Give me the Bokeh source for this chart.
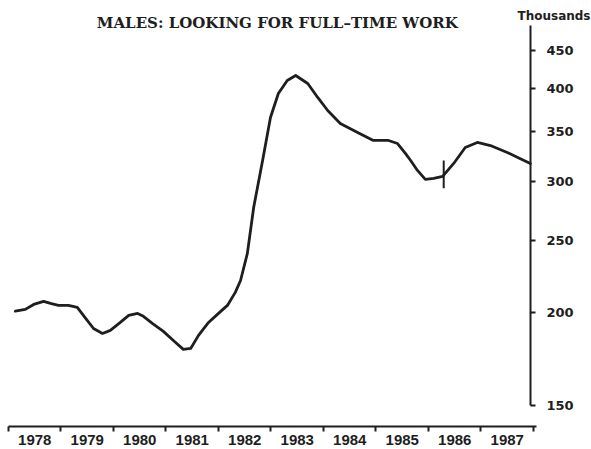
from bokeh.plotting import figure
from bokeh.models import Range1d, FixedTicker, Label
from bokeh.embed import file_html
from bokeh.resources import INLINE

# Data (thousands, log scale)
years = [1978.13, 1978.32, 1978.48, 1978.67, 1978.80, 1978.95,
         1979.14, 1979.31, 1979.47, 1979.62, 1979.79, 1979.94,
         1980.13, 1980.29, 1980.46, 1980.57, 1980.74, 1980.95,
         1981.14, 1981.33, 1981.47, 1981.62, 1981.81,
         1982.00, 1982.17, 1982.32, 1982.42, 1982.55, 1982.67, 1982.84, 1982.99,
         1983.14, 1983.31, 1983.47, 1983.70, 1983.89,
         1984.08, 1984.32, 1984.65, 1984.95,
         1985.24, 1985.41, 1985.56, 1985.66, 1985.79, 1985.94,
         1986.10, 1986.27, 1986.48, 1986.70, 1986.93,
         1987.18, 1987.50, 1987.70, 1987.94]
males = [200.8, 201.9, 205.0, 207.0, 205.7, 204.4,
         204.4, 203.1, 196.3, 190.3, 187.4, 189.2,
         193.9, 198.2, 199.4, 197.6, 193.3, 188.6,
         183.4, 178.4, 178.9, 186.3, 193.9,
         199.4, 204.4, 212.8, 220.8, 240.1, 276.8, 320.1, 365.7,
         393.9, 410.1, 416.5, 406.3, 389.1,
         373.7, 358.9, 349.1, 340.6,
         340.6, 337.4, 327.2, 320.1, 310.4, 301.9,
         302.8, 304.7, 317.2, 333.3, 338.5,
         335.3, 328.2, 323.1, 317.2]

year_labels = ["1978", "1979", "1980", "1981", "1982",
               "1983", "1984", "1985", "1986", "1987"]
year_starts = [1978, 1979, 1980, 1981, 1982, 1983, 1984, 1985, 1986, 1987, 1988]
y_ticks = [150, 200, 250, 300, 350, 400, 450]

axis_year = 1987.943          # where the value axis stands
break_year = 1986.29
break_low, break_high = 293.7, 320.1

title_text = "MALES: LOOKING FOR FULL\u2013TIME WORK"
unit_text = "Thousands"

INK = "#1e1e1e"

p = figure(width=591, height=449, output_backend="svg", toolbar_location=None,
           x_range=Range1d(1978.0, 1989.105), y_range=Range1d(140.5, 525.3),
           y_axis_type="log", y_axis_location="right",
           min_border_left=8, min_border_right=0,
           min_border_top=0, min_border_bottom=23)
p.outline_line_color = None
p.xgrid.visible = False
p.ygrid.visible = False
p.background_fill_color = "white"
p.border_fill_color = "white"

# x axis: labels centred between year boundaries, ticks at boundaries
xa = p.xaxis[0]
mid = [y + 0.5 for y in year_starts[:-1]]
xa.ticker = FixedTicker(ticks=mid, minor_ticks=year_starts)
xa.major_label_overrides = {m: lab for m, lab in zip(mid, year_labels)}
xa.bounds = (1978.0, 1988.05)
xa.major_tick_out = 0
xa.major_tick_in = 0
xa.minor_tick_out = 5
xa.minor_tick_in = 0
xa.minor_tick_line_color = INK
xa.minor_tick_line_width = 2
xa.axis_line_color = INK
xa.axis_line_width = 2
xa.major_label_text_font = "Liberation Sans"
xa.major_label_text_font_style = "bold"
xa.major_label_text_font_size = "15px"
xa.major_label_text_color = INK
xa.major_label_standoff = 3

ya = p.yaxis[0]
ya.fixed_location = axis_year
ya.ticker = FixedTicker(ticks=y_ticks)
ya.major_label_overrides = {v: str(v) for v in y_ticks}
ya.bounds = (150, 486.2)
ya.major_tick_out = 5
ya.major_tick_in = 0
ya.minor_tick_out = 0
ya.minor_tick_in = 0
ya.major_tick_line_width = 2
ya.major_tick_line_color = INK
ya.axis_line_color = INK
ya.axis_line_width = 2
ya.major_label_text_font = "DejaVu Sans"
ya.major_label_text_font_style = "bold"
ya.major_label_text_font_size = "13px"
ya.major_label_text_color = INK
ya.major_label_standoff = 11

p.line(years, males, line_color=INK, line_width=2.8, line_join="round", line_cap="round")
p.segment(x0=[break_year], y0=[break_low], x1=[break_year], y1=[break_high],
          line_color=INK, line_width=2)

p.add_layout(Label(x=1983.12, y=490.7, text=title_text, text_align="center",
                   text_baseline="middle", text_font="DejaVu Serif",
                   text_font_style="bold", text_font_size="15px", text_color=INK))
p.add_layout(Label(x=590, y=15, x_units="canvas", y_units="canvas",
                   text=unit_text, text_align="right",
                   text_baseline="middle", text_font="DejaVu Sans",
                   text_font_style="bold", text_font_size="12px", text_color=INK))

open("out.html", "w").write(file_html(p, INLINE))
